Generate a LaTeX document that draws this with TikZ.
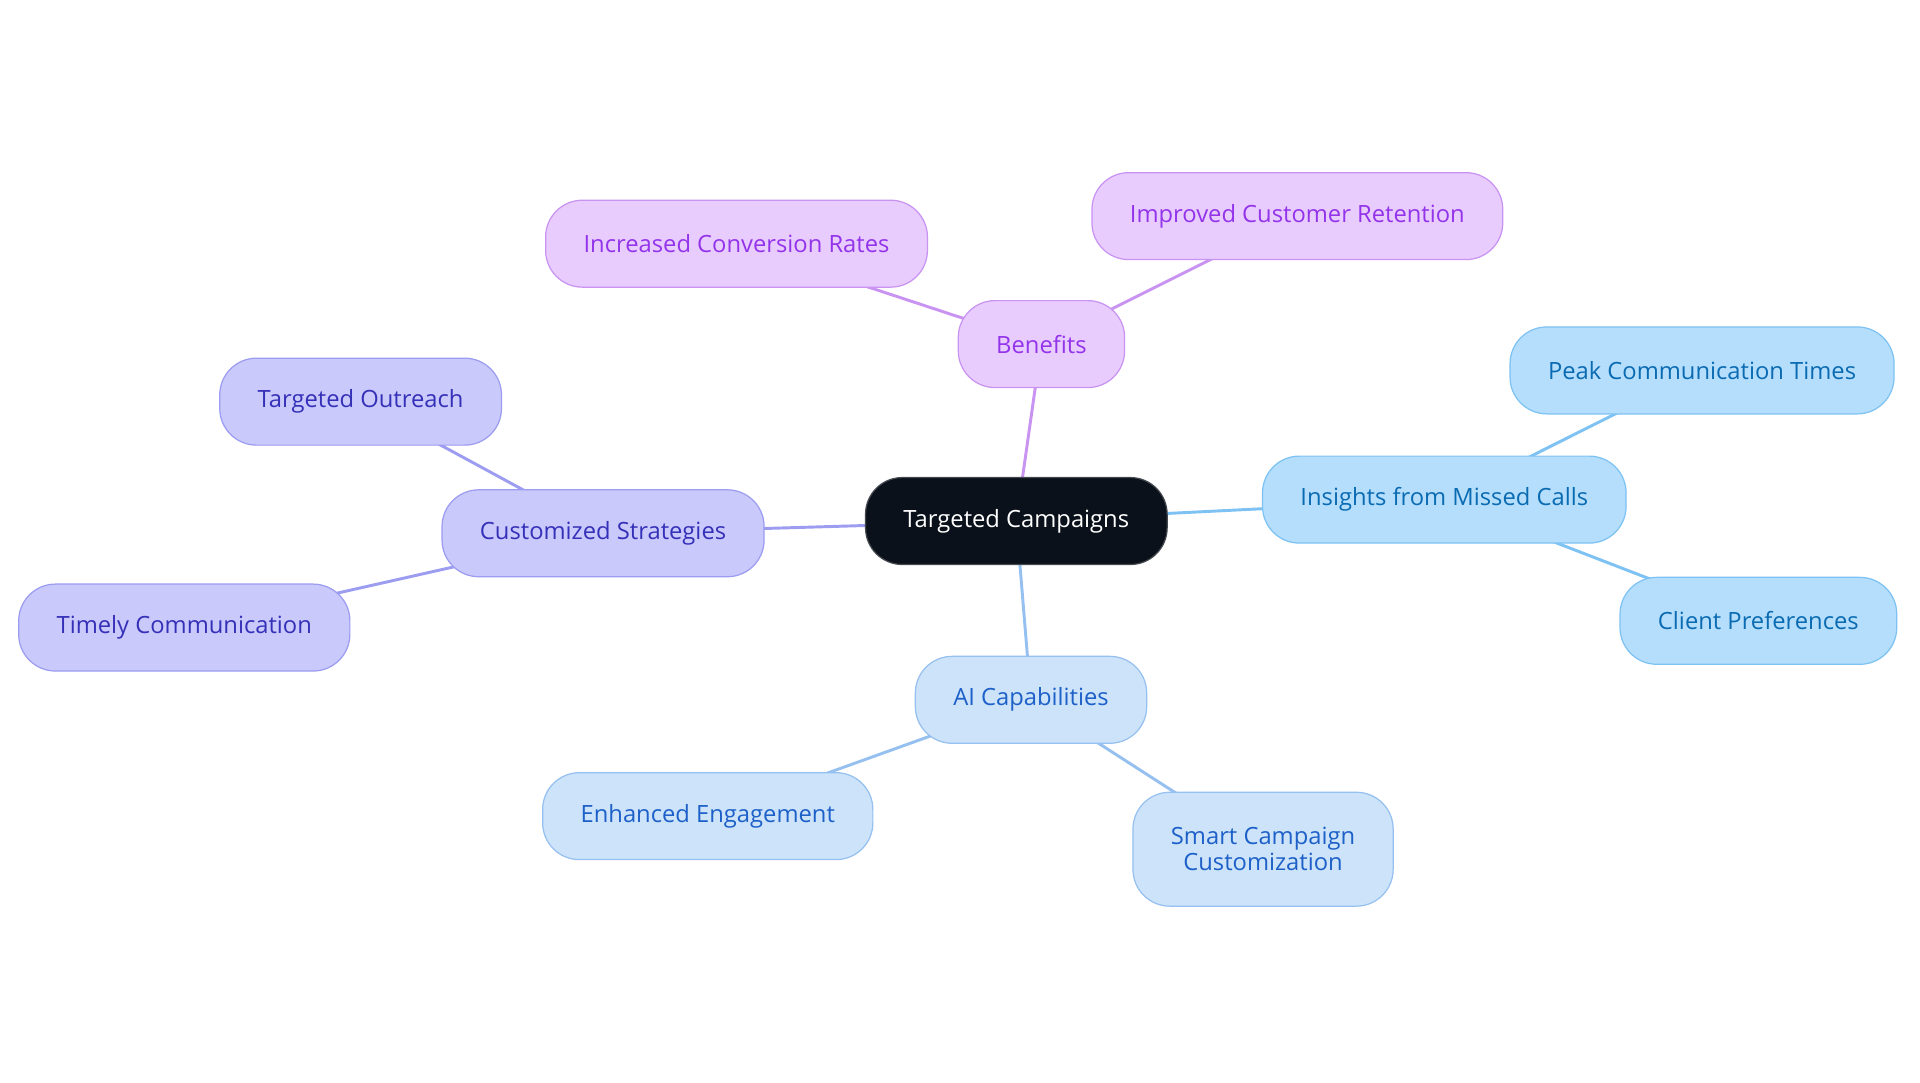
\documentclass[tikz,border=0pt]{standalone}
\usepackage{fontspec}
\setmainfont{Open Sans}
\usepackage{tikz}
\usetikzlibrary{backgrounds}
\definecolor{campDark}{HTML}{0B111A}
\definecolor{campDarkLine}{HTML}{44494F}
\definecolor{benFill}{HTML}{E8CCFD}
\definecolor{benLine}{HTML}{C993F2}
\definecolor{benText}{HTML}{9333EA}
\definecolor{insFill}{HTML}{B4DEFC}
\definecolor{insLine}{HTML}{7DC2F2}
\definecolor{insText}{HTML}{0A6BB2}
\definecolor{aiFill}{HTML}{CCE3FA}
\definecolor{aiLine}{HTML}{96C0EF}
\definecolor{aiText}{HTML}{1D60C8}
\definecolor{cusFill}{HTML}{C9C9FC}
\definecolor{cusLine}{HTML}{9C9CF0}
\definecolor{cusText}{HTML}{3530B8}
\tikzset{
  bubble/.style={rectangle, rounded corners=30pt, minimum height=71pt,
    inner xsep=31pt, inner ysep=6pt, align=center, line width=1pt,
    font=\fontsize{19.4}{21}\selectfont},
  centre/.style={bubble, fill=campDark, draw=campDarkLine, text=white},
  benefit/.style={bubble, fill=benFill, draw=benLine, text=benText},
  insight/.style={bubble, fill=insFill, draw=insLine, text=insText},
  aicap/.style={bubble, fill=aiFill, draw=aiLine, text=aiText},
  custom/.style={bubble, fill=cusFill, draw=cusLine, text=cusText},
  link/.style={line width=2.4pt}
}
\begin{document}
\begin{tikzpicture}[x=1pt, y=-1pt, line cap=round]

  \useasboundingbox (0,0) rectangle (1568,884.4);

  \node[centre] (tc) at (830,425.5) {Targeted Campaigns};

  \node[benefit] (ben) at (850.5,281) {Benefits};
  \node[benefit] (icr) at (601.5,199) {Increased Conversion Rates};
  \node[benefit] (icrt) at (1059.5,176.5) {Improved Customer Retention};

  \node[insight] (imc) at (1179.5,408) {Insights from Missed Calls};
  \node[insight] (pct) at (1390,302.5) {Peak Communication Times};
  \node[insight] (cp) at (1436,507) {Client Preferences};

  \node[aicap] (ai) at (842,571.5) {AI Capabilities};
  \node[aicap] (ee) at (578,666.5) {Enhanced Engagement};
  \node[aicap, minimum height=93pt] (scc) at (1031.5,693.5) {Smart Campaign\\Customization};

  \node[custom] (cs) at (492.5,435.5) {Customized Strategies};
  \node[custom] (to) at (294.5,328) {Targeted Outreach};
  \node[custom] (tcm) at (150.5,512.5) {Timely Communication};

  \begin{scope}[on background layer]
    \draw[link, benLine] (tc.center) -- (ben.center);
    \draw[link, benLine] (ben.center) -- (icr.center);
    \draw[link, benLine] (ben.center) -- (icrt.center);
    \draw[link, insLine] (tc.center) -- (imc.center);
    \draw[link, insLine] (imc.center) -- (pct.center);
    \draw[link, insLine] (imc.center) -- (cp.center);
    \draw[link, aiLine] (tc.center) -- (ai.center);
    \draw[link, aiLine] (ai.center) -- (ee.center);
    \draw[link, aiLine] (ai.center) -- (scc.center);
    \draw[link, cusLine] (tc.center) -- (cs.center);
    \draw[link, cusLine] (cs.center) -- (to.center);
    \draw[link, cusLine] (cs.center) -- (tcm.center);
  \end{scope}
\end{tikzpicture}
\end{document}
